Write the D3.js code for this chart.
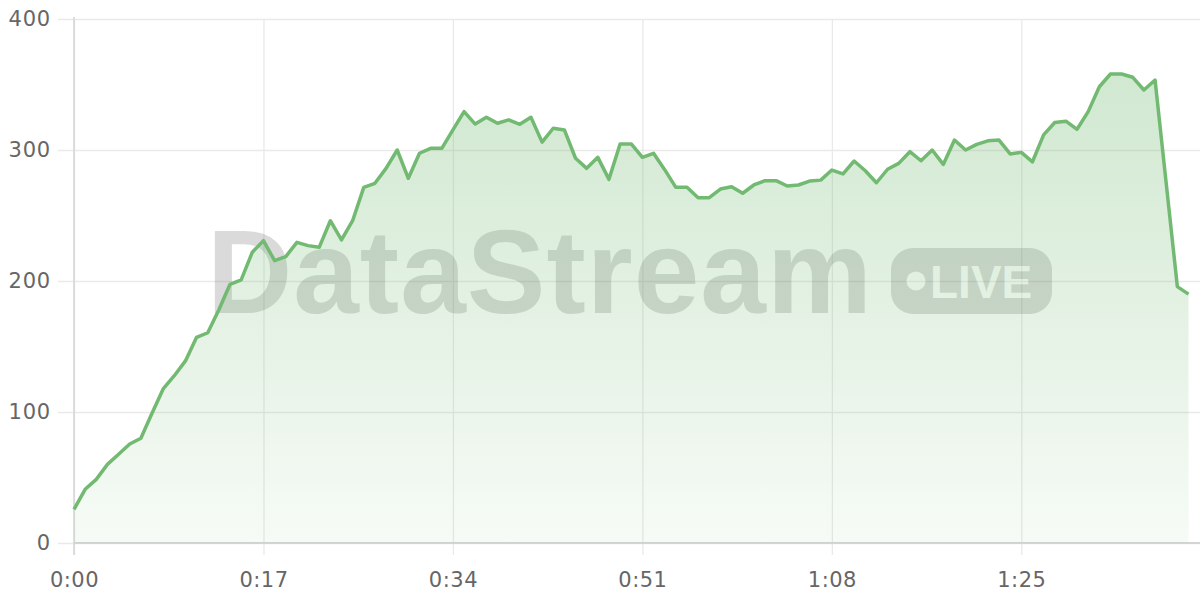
<!DOCTYPE html>
<html>
<head>
<meta charset="utf-8">
<script src="https://cdn.jsdelivr.net/npm/d3@7"></script>
<style>
  html, body { margin: 0; padding: 0; background: #ffffff; }
  svg { display: block; }
</style>
</head>
<body>
<svg id="chart" width="1200" height="600"></svg>
<script>
// seconds since start
const seconds = d3.range(0, 101);
// values per second
const values = [
  25.7, 41, 48.6, 60, 67.7, 75.6, 80, 99, 117.6, 127.7,
  139, 157, 160.5, 178, 197.5, 200.8, 222, 230.8, 215.5, 218.6,
  229.5, 227, 225.7, 246, 231.3, 246, 271.5, 274.6, 286, 300,
  278.4, 297.5, 301.3, 301.3, 315.3, 329.3, 319.8, 325, 320.4, 323,
  319.6, 325, 306, 316.6, 315.3, 293.7, 286, 294.4, 277.6, 304.6,
  304.6, 294.4, 297.5, 285, 271.5, 271.5, 263.6, 263.6, 270.2, 272,
  267, 273.3, 276.6, 276.6, 272.5, 273.3, 276.3, 277, 284.7, 281.7,
  291.6, 284.2, 275, 285.3, 289.8, 298.7, 291.8, 300, 289, 307.6,
  300, 304.3, 307, 307.6, 297, 298.2, 291, 311.5, 321, 322,
  315.8, 329.3, 348.3, 358, 358, 355.5, 345.8, 353.4, 274.5, 195.7,
  190
];
const xTickValues = [0, 17, 34, 51, 68, 85];
const yTickValues = [0, 100, 200, 300, 400];
const watermarkText = "DataStream";
const badgeText = "LIVE";

const data = seconds.map((s, i) => ({ t: s, v: values[i] }));

const svg = d3.select("#chart");
const W = 1200, H = 600;
const margin = { left: 74, right: 11.5, top: 19, bottom: 57 };

const x = d3.scaleLinear().domain([0, 100]).range([margin.left, W - margin.right]);
const y = d3.scaleLinear().domain([0, 400]).range([H - margin.bottom, margin.top]);

const fmt = s => `${Math.floor(s / 60)}:${String(s % 60).padStart(2, "0")}`;

const green = "rgb(114,185,114)";
const labelFont = "DejaVu Sans, sans-serif";

// gradient
const defs = svg.append("defs");
const grad = defs.append("linearGradient")
  .attr("id", "areaGrad").attr("x1", 0).attr("x2", 0).attr("y1", 0).attr("y2", 1);
grad.append("stop").attr("offset", "0%").attr("stop-color", green).attr("stop-opacity", 0.33);
grad.append("stop").attr("offset", "100%").attr("stop-color", green).attr("stop-opacity", 0.06);

// horizontal grid (y axis)
const yAxis = d3.axisLeft(y).tickValues(yTickValues)
  .tickSize(-(W - margin.left + 16)).tickPadding(7).tickSizeOuter(0);
const gy = svg.append("g").attr("transform", `translate(${margin.left - 16},0)`).call(yAxis);
gy.select(".domain").remove();
gy.selectAll(".tick line").attr("stroke", "#e9e9e9").attr("stroke-width", 1.3);
gy.selectAll(".tick text")
  .attr("fill", "#666").attr("font-family", labelFont)
  .attr("font-size", 21).attr("letter-spacing", 0.8);

// vertical grid (x axis)
const xAxis = d3.axisBottom(x).tickValues(xTickValues).tickFormat(fmt)
  .tickSize(-(H - margin.bottom - margin.top + 12)).tickPadding(17).tickSizeOuter(0);
const gx = svg.append("g").attr("transform", `translate(0,${H - margin.bottom + 12})`).call(xAxis);
gx.select(".domain").remove();
gx.selectAll(".tick line").attr("stroke", "#e9e9e9").attr("stroke-width", 1.3);
gx.selectAll(".tick text")
  .attr("fill", "#666").attr("font-family", labelFont)
  .attr("font-size", 21).attr("letter-spacing", 0.5);

// axis lines
svg.append("line")
  .attr("x1", x(0)).attr("x2", x(0))
  .attr("y1", y(400) - 2).attr("y2", H - margin.bottom + 12)
  .attr("stroke", "#d4d4d4").attr("stroke-width", 1.5);
svg.append("line")
  .attr("x1", x(0)).attr("x2", W)
  .attr("y1", y(0)).attr("y2", y(0))
  .attr("stroke", "#d4d4d4").attr("stroke-width", 2);

// watermark
const wm = svg.append("g").attr("opacity", 0.21);
wm.append("text")
  .attr("x", 207).attr("y", 313)
  .attr("font-family", "Liberation Sans, Arial, sans-serif")
  .attr("font-weight", "bold").attr("font-size", 118)
  .attr("letter-spacing", 1)
  .attr("fill", "#555").text(watermarkText);
wm.append("rect")
  .attr("x", 891).attr("y", 248).attr("width", 161).attr("height", 66)
  .attr("rx", 22).attr("fill", "#555");
wm.append("circle").attr("cx", 916).attr("cy", 281).attr("r", 9.5).attr("fill", "#fff");
wm.append("text")
  .attr("x", 930).attr("y", 298)
  .attr("font-family", "Liberation Sans, Arial, sans-serif")
  .attr("font-weight", "bold")
  .attr("font-size", 46).attr("fill", "#fff").text(badgeText);

// area
const area = d3.area().x(d => x(d.t)).y0(y(0)).y1(d => y(d.v));
svg.append("path").datum(data).attr("d", area).attr("fill", "url(#areaGrad)");

// line
const line = d3.line().x(d => x(d.t)).y(d => y(d.v));
svg.append("path").datum(data).attr("d", line)
  .attr("fill", "none").attr("stroke", green).attr("stroke-width", 3.5)
  .attr("stroke-linejoin", "round");
</script>
</body>
</html>
